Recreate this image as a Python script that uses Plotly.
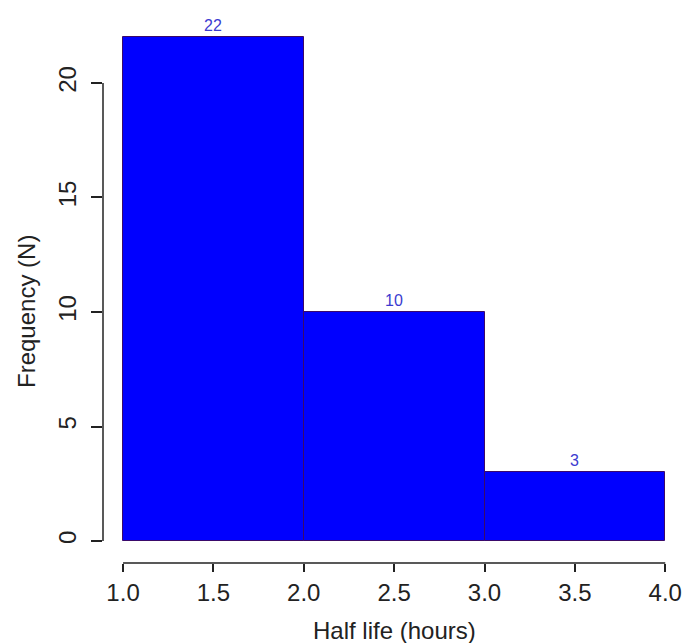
import plotly.graph_objects as go

bin_left = [1.0, 2.0, 3.0]
bin_right = [2.0, 3.0, 4.0]
counts = [22, 10, 3]
x_ticks = [1.0, 1.5, 2.0, 2.5, 3.0, 3.5, 4.0]
x_tick_labels = ["1.0", "1.5", "2.0", "2.5", "3.0", "3.5", "4.0"]
y_ticks = [0, 5, 10, 15, 20]

centers = [(a + b) / 2 for a, b in zip(bin_left, bin_right)]
widths = [b - a for a, b in zip(bin_left, bin_right)]

FONT = "Liberation Sans, Arial, sans-serif"
INK = "#222222"

fig = go.Figure()
fig.add_trace(go.Bar(
    x=centers, y=counts, width=widths,
    marker=dict(color="#0000ff", line=dict(color="#3a0a6a", width=1)),
    text=[str(c) for c in counts], textposition="outside",
    textfont=dict(family=FONT, size=16, color="#3b3bd0"),
    cliponaxis=False, hoverinfo="x+y",
))

fig.update_layout(
    width=685, height=643,
    margin=dict(l=103, r=10, t=20, b=80, autoexpand=False),
    paper_bgcolor="white", plot_bgcolor="white",
    showlegend=False, bargap=0,
    font=dict(family=FONT, color=INK),
    xaxis=dict(range=[0.889, 4.054], tickvals=x_ticks, ticktext=x_tick_labels,
               ticks="outside", ticklen=8, tickwidth=1.5, tickcolor=INK,
               showgrid=False, zeroline=False, showline=False, automargin=False,
               tickfont=dict(size=24, color=INK)),
    yaxis=dict(range=[-0.96, 22.75], tickvals=y_ticks, tickangle=-90,
               ticks="outside", ticklen=11, tickwidth=1.5, tickcolor=INK,
               showgrid=False, zeroline=False, showline=False, automargin=False,
               ticklabelstandoff=5,
               tickfont=dict(size=24, color=INK)),
    shapes=[
        dict(type="line", xref="x", yref="paper", x0=1.0, x1=4.0, y0=0, y1=0,
             line=dict(color=INK, width=1.5)),
        dict(type="line", xref="paper", yref="y", x0=0, x1=0, y0=0, y1=20,
             line=dict(color=INK, width=1.5)),
    ],
    annotations=[
        dict(text="Half life (hours)", xref="x", yref="paper", x=2.5, y=0,
             yshift=-67, showarrow=False, yanchor="middle",
             font=dict(size=24, color=INK)),
        dict(text="Frequency (N)", xref="paper", yref="y", x=0, y=10,
             xshift=-77, showarrow=False, xanchor="center", textangle=-90,
             font=dict(size=24, color=INK)),
    ],
)

fig.write_html("out.html", config={"displayModeBar": False},
               post_script="document.body.style.margin='0';document.body.style.overflow='hidden';")
